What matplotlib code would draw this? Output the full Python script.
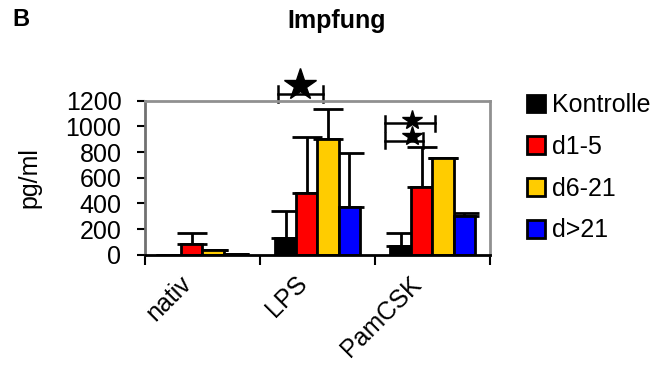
import numpy as np
import matplotlib
matplotlib.use('Agg')
import matplotlib.pyplot as plt
from matplotlib.patches import Patch
from matplotlib.transforms import ScaledTranslation

plt.rcParams['font.family'] = ['Liberation Sans', 'DejaVu Sans']

categories = ['nativ', 'LPS', 'PamCSK']
series = ['Kontrolle', 'd1-5', 'd6-21', 'd>21']
colors = ['#000000', '#ff0000', '#ffcc00', '#0000ff']

# mean values (pg/ml) per series, one entry per category
kontrolle = [3, 130, 70]
d1_5 = [86, 480, 527]
d6_21 = [35, 902, 752]
d_gt21 = [5, 376, 303]
means = [kontrolle, d1_5, d6_21, d_gt21]

# upper error (SD) per series
err_kontrolle = [0, 215, 99]
err_d1_5 = [87, 440, 315]
err_d6_21 = [0, 231, 0]
err_d_gt21 = [0, 415, 21]
errs = [err_kontrolle, err_d1_5, err_d6_21, err_d_gt21]

# significance brackets: (x start, x end, height)
brackets = [(0.657, 1.048, 1252), (1.587, 2.022, 1024), (1.587, 1.917, 889)]
# stars: (x, y, marker size)
stars = [(0.848, 1322, 24), (1.819, 1052, 15), (1.819, 922, 15)]

fig = plt.figure(figsize=(6.66, 3.76), dpi=100)
ax = fig.add_axes([0.2177, 0.322, 0.518, 0.4104])

x = np.arange(len(categories))
w = 0.185
for i in range(len(series)):
    pos = x + (i - 1.5) * w
    ax.errorbar(pos, means[i], yerr=[np.zeros(3), errs[i]], fmt='none',
                ecolor='black', elinewidth=2, capsize=10.5, capthick=2, zorder=1)
    ax.bar(pos, means[i], width=w, color=colors[i], edgecolor='black',
           linewidth=2, zorder=2)

for x0, x1, h in brackets:
    ax.plot([x0, x1], [h, h], color='black', lw=1.8, clip_on=False)
    ax.plot([x0, x0], [h - 60, h + 60], color='black', lw=1.8, clip_on=False)
    ax.plot([x1, x1], [h - 60, h + 60], color='black', lw=1.8, clip_on=False)
for sx, sy, ms in stars:
    ax.plot(sx, sy, marker='*', ms=ms, color='black', clip_on=False)

ax.set_xlim(-0.5, 2.5)
ax.set_ylim(0, 1200)
ax.set_yticks(np.arange(0, 1201, 200))
ax.set_xticks([-0.5, 0.5, 1.5, 2.5])
ax.set_xticklabels([])
ax.set_xticks(x, minor=True)
ax.set_xticklabels(categories, minor=True, rotation=45, ha='right', va='top',
                   rotation_mode='anchor', fontsize=18)
ax.tick_params(axis='x', which='minor', length=0, pad=12)
ax.tick_params(axis='x', which='major', length=7, width=1.5, direction='out')
ax.tick_params(axis='y', length=6, width=1.5, labelsize=18, pad=11)
shift = ScaledTranslation(-0.23, 0, fig.dpi_scale_trans)
for lbl in ax.get_xticklabels(minor=True):
    lbl.set_transform(lbl.get_transform() + shift)

for s in ['top', 'right']:
    ax.spines[s].set_color('#909090')
    ax.spines[s].set_linewidth(2)
ax.spines['left'].set_color('#707070')
ax.spines['left'].set_linewidth(2)
ax.spines['bottom'].set_linewidth(2)
ax.set_ylabel('pg/ml', fontsize=18)
ax.yaxis.set_label_coords(-0.30, 0.5)

handles = [Patch(facecolor=c, edgecolor='black', linewidth=2) for c in colors]
fig.legend(handles, series, loc='upper left', bbox_to_anchor=(0.7915, 0.752),
           frameon=False, fontsize=18, handlelength=0.72, handleheight=0.72,
           handletextpad=0.28, labelspacing=0.71, borderaxespad=0, borderpad=0)

fig.text(0.505, 0.945, 'Impfung', fontsize=18, fontweight='bold', ha='center', va='center')
fig.text(0.032, 0.948, 'B', fontsize=17, fontweight='bold', ha='center', va='center')

fig.savefig('out.png', dpi=100)
